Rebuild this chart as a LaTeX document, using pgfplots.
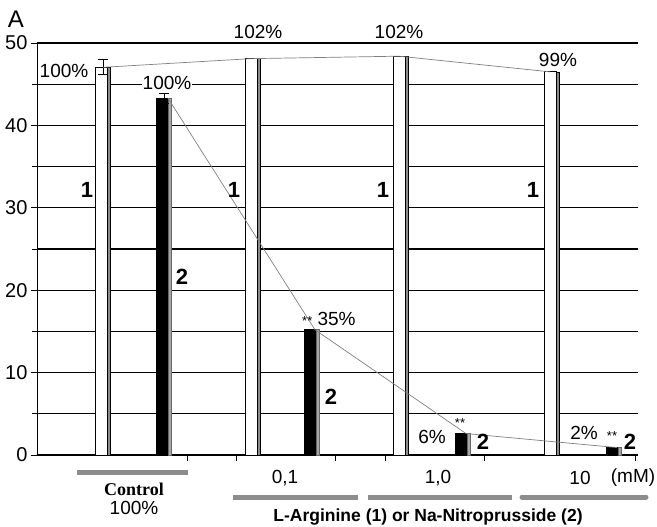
\documentclass[border=0pt]{standalone}
\usepackage{pgfplots}
\pgfplotsset{compat=1.18}
\usepackage{fontspec}
\setmainfont{Liberation Sans}
\newfontfamily\serifb{Liberation Serif}
\newcommand\lbl{\fontsize{19}{19}\selectfont}
\newcommand\num{\fontsize{22}{22}\selectfont\bfseries}
\begin{document}
\begin{tikzpicture}[x=1pt,y=1pt]
\path[use as bounding box] (0,0) rectangle (657,527);
\begin{axis}[
  at={(37pt,72pt)}, anchor=south west,
  scale only axis, width=601pt, height=412pt,
  xmin=0, xmax=601, ymin=0, ymax=50,
  axis lines=left,
  x axis line style={-, line width=1.8pt},
  y axis line style={-, line width=0.8pt},
  ytick={0,10,...,50}, minor ytick={5,15,...,45},
  ymajorgrids, yminorgrids,
  major grid style={black, line width=1.1pt},
  minor grid style={black, line width=1.1pt},
  xtick={150,199,298,348,447,598}, xticklabels={},
  tick align=outside, major tick length=6pt, minor tick length=5pt,
  tick style={black, line width=0.8pt},
  yticklabel style={font=\fontsize{20}{20}\selectfont},
  /pgf/number format/assume math mode=true,
  clip=false,
]
% series 1 (white bars)
\addplot[ybar, bar width=12pt, bar shift=0pt, fill=white, draw=black, line width=0.8pt]
  coordinates {(64,47.05) (214,48.1) (362,48.4) (513,46.5)};
\addplot[ybar, bar width=3pt, bar shift=7.5pt, fill=black!45, draw=black, line width=0.5pt]
  coordinates {(64,47.05) (214,48.1) (362,48.4) (513,46.5)};
% series 2 (black bars)
\addplot[ybar, bar width=12pt, bar shift=0pt, fill=black, draw=black, line width=0.8pt]
  coordinates {(125,43.3) (273,15.2) (424,2.6) (575,0.9)};
\addplot[ybar, bar width=3pt, bar shift=7.5pt, fill=black!35, draw=black!60, line width=0.5pt]
  coordinates {(125,43.3) (273,15.2) (424,2.6) (575,0.9)};
% error bars
\addplot[draw=none, mark=none, error bars/.cd, y dir=both, y explicit,
  error mark=-,
  error bar style={black, line width=0.8pt},
  error mark options={black, rotate=90, mark size=5pt, line width=0.8pt}]
  coordinates {(66,47.05) +- (0,0.9) (127,43.3) +- (0,0.6)};
% connecting lines
\addplot[black!50, line width=0.7pt, mark=none]
  coordinates {(66,47.05) (214,48.1) (362,48.4) (513,46.5)};
\addplot[black!50, line width=0.7pt, mark=none]
  coordinates {(131,43.3) (278,15.2) (429,2.6) (580,0.9)};
% percentage labels
\node[font=\lbl] at (axis cs:27,46.6) {100\%};
\node[font=\lbl, fill=white, inner sep=1pt] at (axis cs:130,45.2) {100\%};
\node[font=\lbl] at (axis cs:221,51.3) {102\%};
\node[font=\lbl] at (axis cs:362,51.3) {102\%};
\node[font=\lbl] at (axis cs:521,47.9) {99\%};
\node[font=\lbl, anchor=west, inner sep=0pt] at (axis cs:265,16.5) {{\fontsize{13}{13}\selectfont **} 35\%};
\node[font=\fontsize{13}{13}\selectfont, inner sep=0pt] at (axis cs:423,3.9) {**};
\node[font=\lbl] at (axis cs:395,2.2) {6\%};
\node[font=\lbl] at (axis cs:547,2.7) {2\%};
\node[font=\fontsize{13}{13}\selectfont, inner sep=0pt] at (axis cs:575,2.3) {**};
% series numbers
\node[font=\num] at (axis cs:50,32.2) {1};
\node[font=\num] at (axis cs:197,32.2) {1};
\node[font=\num] at (axis cs:346,32.2) {1};
\node[font=\num] at (axis cs:496,32.2) {1};
\node[font=\num] at (axis cs:145,21.6) {2};
\node[font=\num] at (axis cs:294,7.0) {2};
\node[font=\num] at (axis cs:446,1.6) {2};
\node[font=\num] at (axis cs:593,1.6) {2};
% panel letter
\node[font=\fontsize{24}{24}\selectfont] at (axis cs:-21,52.9) {A};
% bottom annotations
\draw[black!45, line width=5pt] (axis cs:40,-2.18) -- (axis cs:151,-2.18);
\node[font=\serifb\bfseries\fontsize{18}{18}\selectfont] at (axis cs:97,-4.13) {Control};
\node[font=\lbl] at (axis cs:97,-6.43) {100\%};
\node[font=\lbl] at (axis cs:248,-2.79) {0,1};
\node[font=\lbl] at (axis cs:401,-2.79) {1,0};
\node[font=\lbl] at (axis cs:543,-2.79) {10};
\node[font=\lbl] at (axis cs:596,-2.79) {(mM)};
\draw[black!45, line width=5pt] (axis cs:196,-5.1) -- (axis cs:321,-5.1);
\draw[black!45, line width=5pt] (axis cs:331,-5.1) -- (axis cs:475,-5.1);
\draw[black!45, line width=5pt, line cap=round] (axis cs:485,-5.1) -- (axis cs:609,-5.1);
\node[font=\bfseries\fontsize{17.5}{17.5}\selectfont] at (axis cs:391,-7.52) {L-Arginine (1) or Na-Nitroprusside (2)};
\end{axis}
\end{tikzpicture}
\end{document}
